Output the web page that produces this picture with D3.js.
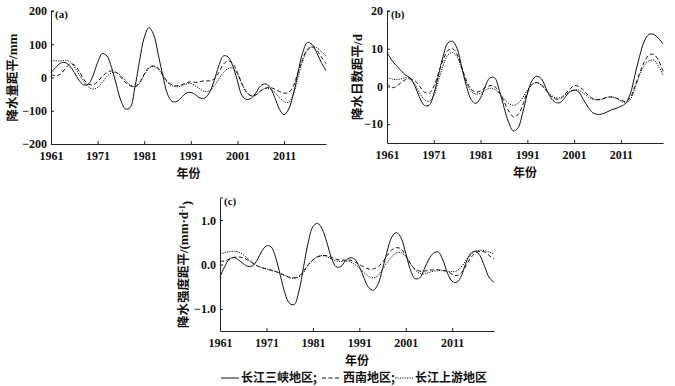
<!DOCTYPE html>
<html>
<head>
<meta charset="utf-8">
<script src="https://cdn.jsdelivr.net/npm/d3@7"></script>
<style>
  body { margin: 0; background: #fff; }
  svg { display: block; }
  .tick-label { font-family: "Liberation Serif", "Times New Roman", serif; font-weight: bold; font-size: 12px; fill: #111; }
  .cjk { font-family: "Noto Sans CJK SC", sans-serif; font-weight: bold; fill: #111; }
  .latin { font-family: "Liberation Serif", "Times New Roman", serif; font-weight: bold; }
</style>
</head>
<body>
<svg id="chart" width="675" height="386"></svg>
<script>
const years = d3.range(1961, 2021);
const xTicks = [1961, 1971, 1981, 1991, 2001, 2011];

// (a) 降水量距平 / mm
const gorgesA = [15,30,43,45,35,15,-8,-22,-20,5, 45,72,65,30,-20,-70,-95,-90,-30,50,
  120,150,130,70,5,-50,-72,-72,-60,-47, -45,-52,-62,-62,-45,-10,35,65,62,35,
  -10,-55,-66,-62,-45,-25,-19,-30,-60,-95, -112,-95,-50,15,75,105,100,75,45,20];
const southwestA = [10,5,10,25,40,38,20,-5,-20,-22, -12,3,15,20,15,0,-15,-25,-28,-15,
  10,30,35,28,8,-12,-22,-25,-22,-16, -13,-15,-12,-10,-10,-5,15,40,50,42,
  15,-20,-45,-55,-52,-40,-32,-30,-35,-42, -47,-45,-25,15,55,85,92,82,62,42];
const upperA = [52,50,50,52,48,32,10,-12,-28,-35, -30,-15,3,14,15,5,-10,-22,-28,-18,
  8,28,33,25,5,-15,-25,-28,-25,-20, -18,-25,-35,-42,-40,-25,-5,15,27,28,
  10,-20,-45,-55,-52,-40,-33,-35,-45,-60, -72,-75,-50,0,50,80,92,90,78,65];

// (b) 降水日数距平 / d
const gorgesB = [9,7,5.5,4.2,3,2.2,0,-3,-5,-5, -2,3,8,11.5,12,10,5,0,-3.5,-4.5,
  -3,0,2.3,2.3,-1,-5.5,-9.5,-11.8,-11,-7, -2,1.5,2.7,2,-0.5,-3,-4.2,-4.3,-3,-1.5,
  -1,-1.5,-3.5,-5.5,-7,-7.4,-7.3,-6.8,-6.2,-5.8, -5.3,-4.5,-2,3,8,12,13.8,13.8,12.8,11.3];
const southwestB = [0.8,-0.3,0,1,1.8,2,1.5,0,-1.5,-1.8, 0,3.5,7,9.5,10,8.5,5,1.5,-0.8,-1.5,
  -1.2,-0.3,0.2,0,-1.5,-4,-6.5,-8,-7.5,-5, -1.5,0.5,1,0.5,-1,-2.5,-3.3,-3.3,-2.2,-0.8,
  0.2,0,-1,-2.3,-3.2,-3.5,-3.3,-2.9,-2.8,-3.1, -3.6,-4,-3,0,3.5,6.5,8.3,8.5,7,4];
const upperB = [2.5,2,1.8,2,2.3,2,0.5,-1.8,-3.5,-4, -2.5,1.5,5.5,8.3,9,7.8,4.5,1,-1.3,-2,
  -1.8,-1,-0.5,-0.8,-1.8,-3.2,-4.5,-5,-4.5,-3, -1,0.5,1,0.3,-1,-2.2,-3,-3,-2.3,-1.5,
  -0.9,-1,-1.8,-2.8,-3.4,-3.6,-3.4,-2.9,-2.8,-3.2, -3.9,-4.4,-3.5,-0.5,3,5.5,6.8,7,5.5,3];

// (c) 降水强度距平 / (mm·d-1)
const gorgesC = [-0.28,-0.05,0.12,0.16,0.1,0.02,-0.04,-0.03,0.1,0.3, 0.42,0.4,0.15,-0.25,-0.65,-0.88,-0.9,-0.6,-0.05,0.5,
  0.85,0.93,0.8,0.5,0.15,-0.05,-0.05,0.08,0.15,0.12, -0.05,-0.3,-0.52,-0.58,-0.45,-0.1,0.3,0.62,0.72,0.6,
  0.25,-0.12,-0.32,-0.3,-0.1,0.12,0.26,0.28,0.1,-0.2, -0.38,-0.4,-0.25,0.05,0.25,0.3,0.2,-0.05,-0.3,-0.4];
const southwestC = [0.07,0.08,0.12,0.16,0.17,0.15,0.1,0.04,-0.03,-0.07, -0.1,-0.13,-0.16,-0.2,-0.25,-0.29,-0.3,-0.26,-0.15,0,
  0.1,0.17,0.2,0.2,0.16,0.12,0.1,0.1,0.1,0.06, 0,-0.06,-0.1,-0.1,-0.05,0.05,0.2,0.33,0.38,0.35,
  0.2,0.02,-0.1,-0.15,-0.15,-0.13,-0.12,-0.12,-0.13,-0.16, -0.22,-0.25,-0.18,-0.02,0.15,0.26,0.3,0.28,0.2,0.12];
const upperC = [0.24,0.26,0.29,0.3,0.28,0.22,0.13,0.04,-0.03,-0.07, -0.1,-0.13,-0.16,-0.2,-0.25,-0.3,-0.31,-0.28,-0.18,-0.02,
  0.1,0.18,0.2,0.18,0.12,0.08,0.07,0.08,0.06,0, -0.08,-0.18,-0.27,-0.3,-0.25,-0.1,0.05,0.18,0.26,0.27,
  0.18,0.02,-0.12,-0.2,-0.21,-0.18,-0.15,-0.14,-0.14,-0.15, -0.16,-0.14,-0.05,0.1,0.22,0.3,0.32,0.31,0.28,0.24];

const seriesNames = ['长江三峡地区;', '西南地区;', '长江上游地区'];
const dashes = [null, '4,2.5', '1.2,1.2'];

const panels = [
  {tag: '(a)', ylabel: '降水量距平', unit: '/mm', data: [gorgesA, southwestA, upperA],
   yDomain: [-200, 200], yTicks: [200, 100, 0, -100, -200], fmt: d3.format('d'),
   left: 51, right: 326, top: 11, bottom: 144, ylabelX: 13},
  {tag: '(b)', ylabel: '降水日数距平', unit: '/d', data: [gorgesB, southwestB, upperB],
   yDomain: [-15, 20], yTicks: [20, 10, 0, -10], fmt: d3.format('d'),
   left: 387, right: 663, top: 11, bottom: 143, ylabelX: 358},
  {tag: '(c)', ylabel: '降水强度距平', unit: '/(mm·d', sup: '-1', data: [gorgesC, southwestC, upperC],
   yDomain: [-1.5, 1.5], yTicks: [1.0, 0.0, -1.0], fmt: d3.format('.1f'),
   left: 220, right: 494, top: 198, bottom: 331, ylabelX: 184}
];

const svg = d3.select('#chart');
const minus = s => s.replace('-', '−');

panels.forEach(p => {
  const x = d3.scaleLinear().domain([1961, 2020]).range([p.left, p.right]);
  const y = d3.scaleLinear().domain(p.yDomain).range([p.bottom, p.top]);
  const g = svg.append('g');

  // axes
  const xAxis = g.append('g')
    .attr('transform', `translate(0,${p.bottom})`)
    .call(d3.axisBottom(x).tickValues(xTicks).tickSizeInner(-3).tickSizeOuter(0).tickFormat(d3.format('d')));
  const yAxis = g.append('g')
    .attr('transform', `translate(${p.left},0)`)
    .call(d3.axisLeft(y).tickValues(p.yTicks).tickSizeInner(-3).tickSizeOuter(0).tickFormat(d => minus(p.fmt(d))));

  [xAxis, yAxis].forEach(a => {
    a.select('.domain').attr('stroke', '#222').attr('stroke-width', 1);
    a.selectAll('.tick line').attr('stroke', '#222');
    a.selectAll('.tick text').attr('class', 'tick-label').attr('fill', null);
  });
  xAxis.selectAll('.tick text').attr('dy', null).attr('y', 16);
  yAxis.selectAll('.tick text').attr('x', -4);
  // top stub at the y axis
  g.append('line')
    .attr('x1', p.left).attr('x2', p.left + 3)
    .attr('y1', p.top).attr('y2', p.top)
    .attr('stroke', '#222');

  g.append('text')
    .attr('class', 'tick-label')
    .attr('x', p.left + 4).attr('y', p.top + 7)
    .style('font-size', '11px')
    .text(p.tag);

  g.append('text')
    .attr('class', 'cjk')
    .attr('x', (p.left + p.right) / 2).attr('y', p.bottom + 34)
    .attr('text-anchor', 'middle')
    .style('font-size', '12px')
    .text('年份');

  const yl = g.append('text')
    .attr('class', 'cjk')
    .attr('transform', `translate(${p.ylabelX},${(p.top + p.bottom) / 2}) rotate(-90)`)
    .attr('text-anchor', 'middle')
    .attr('dy', '0.35em')
    .style('font-size', '12.5px')
    .text(p.ylabel);
  yl.append('tspan').attr('class', 'latin').style('font-size', '13px').text(p.unit);
  if (p.sup) {
    yl.append('tspan').attr('class', 'latin').attr('dy', '-0.45em').style('font-size', '8px').text(p.sup);
    yl.append('tspan').attr('class', 'latin').attr('dy', '0.45em').style('font-size', '13px').text(')');
  }

  const line = d3.line()
    .x((d, i) => x(years[i]))
    .y(d => y(d))
    .curve(d3.curveCatmullRom.alpha(0.5));

  g.selectAll('.series')
    .data(p.data)
    .join('path')
    .attr('class', 'series')
    .attr('d', d => line(d))
    .attr('fill', 'none')
    .attr('stroke', '#111')
    .attr('stroke-width', 1)
    .attr('stroke-dasharray', (d, i) => dashes[i]);
});

// legend
const legendItems = [
  {x1: 221, x2: 239, tx: 241},
  {x1: 322, x2: 341, tx: 343},
  {x1: 395, x2: 413, tx: 415}
];
const legend = svg.append('g').attr('transform', 'translate(0,378)');
legendItems.forEach((it, i) => {
  legend.append('line')
    .attr('x1', it.x1).attr('x2', it.x2).attr('y1', 0).attr('y2', 0)
    .attr('stroke', '#111').attr('stroke-width', 1)
    .attr('stroke-dasharray', dashes[i]);
  legend.append('text')
    .attr('class', 'cjk')
    .attr('x', it.tx).attr('y', 0).attr('dy', '0.35em')
    .style('font-size', '12px')
    .text(seriesNames[i]);
});
</script>
</body>
</html>
